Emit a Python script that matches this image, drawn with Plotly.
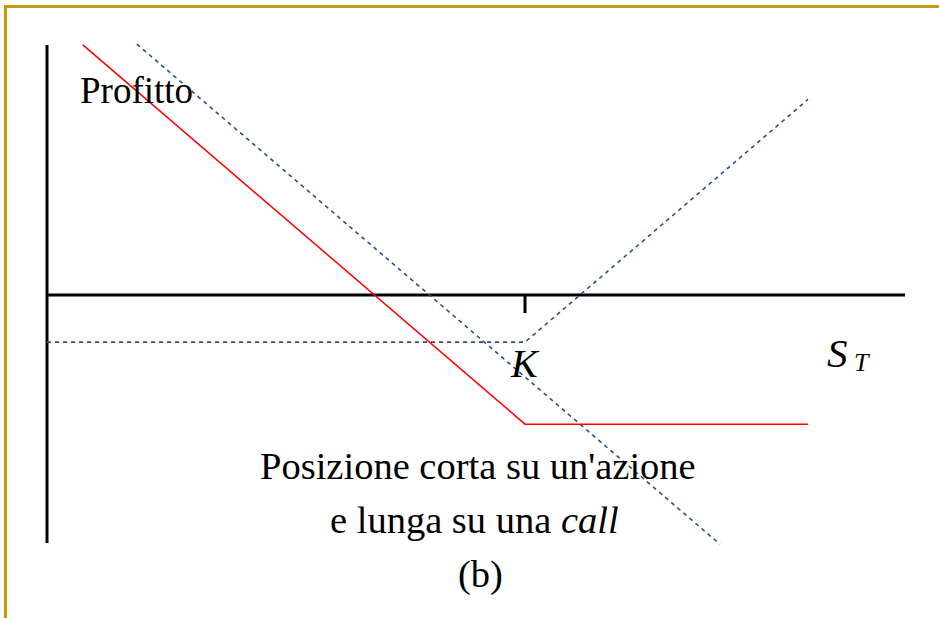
import plotly.graph_objects as go

# ---- data (S_T on x, profit on y) ----
strike = 100
axis_x_S = [0, 179.5]
axis_x_P = [0, 0]
axis_y_S = [0, 0]
axis_y_P = [61, -60.5]
tick_S = [strike, strike]
tick_P = [0, -4.4]

combo_S = [7.5, 100, 159.2]        # short stock + long call (red)
combo_P = [61, -31.5, -31.5]
stock_S = [18.8, 140.8]            # short stock (dashed)
stock_P = [61.2, -60.8]
call_S = [0, 100, 159.2]           # long call (dashed)
call_P = [-11.5, -11.5, 47.7]

W, H = 939, 618
sx, sy = 4.78, 4.1
x0px, y0px = 47, 295
xr = [-x0px / sx, (W - x0px) / sx]
yr = [(y0px - H) / sy, y0px / sy]

serif = "Liberation Serif"
blue = "#2B5089"

fig = go.Figure()
fig.add_trace(go.Scatter(x=axis_x_S, y=axis_x_P, mode="lines", line=dict(color="black", width=3)))
fig.add_trace(go.Scatter(x=axis_y_S, y=axis_y_P, mode="lines", line=dict(color="black", width=3)))
fig.add_trace(go.Scatter(x=tick_S, y=tick_P, mode="lines", line=dict(color="black", width=3)))
fig.add_trace(go.Scatter(x=stock_S, y=stock_P, mode="lines", line=dict(color=blue, width=1.6, dash="4px,4px")))
fig.add_trace(go.Scatter(x=call_S, y=call_P, mode="lines", line=dict(color=blue, width=1.6, dash="4px,4px")))
fig.add_trace(go.Scatter(x=combo_S, y=combo_P, mode="lines", line=dict(color="#FF0000", width=1.5)))

def px2x(p):
    return (p - x0px) / sx

def px2y(p):
    return (y0px - p) / sy

ann = [
    dict(text="Profitto", x=px2x(136), y=px2y(90), size=37),
    dict(text="<i>K</i>", x=px2x(525), y=px2y(363), size=40),
    dict(text="<i>S</i>", x=px2x(837), y=px2y(353), size=41),
    dict(text="<i>T</i>", x=px2x(862), y=px2y(362), size=26),
    dict(text="Posizione corta su un'azione", x=px2x(478), y=px2y(466), size=38.5),
    dict(text="e lunga su una <i>call</i>", x=px2x(474), y=px2y(520), size=38.5),
    dict(text="(b)", x=px2x(480), y=px2y(574), size=38.5),
]
for a in ann:
    fig.add_annotation(x=a["x"], y=a["y"], text=a["text"], showarrow=False,
                       xanchor="center", yanchor="middle",
                       font=dict(family=serif, size=a["size"], color="black"))

gold = "#C49A0C"
fig.add_shape(type="line", xref="paper", yref="paper", x0=4 / W, x1=1, y0=1 - 6.5 / H, y1=1 - 6.5 / H,
              line=dict(color=gold, width=3))
fig.add_shape(type="line", xref="paper", yref="paper", x0=5.5 / W, x1=5.5 / W, y0=0, y1=1 - 5 / H,
              line=dict(color=gold, width=3))

fig.update_layout(
    width=W, height=H, margin=dict(l=0, r=0, t=0, b=0),
    paper_bgcolor="white", plot_bgcolor="white", showlegend=False,
    font=dict(family=serif),
    xaxis=dict(range=xr, visible=False, fixedrange=True),
    yaxis=dict(range=yr, visible=False, fixedrange=True),
    hovermode=False,
)
fig.write_html("out.html", config={"displayModeBar": False},
               post_script="document.body.style.margin='0';document.body.style.overflow='hidden';")
